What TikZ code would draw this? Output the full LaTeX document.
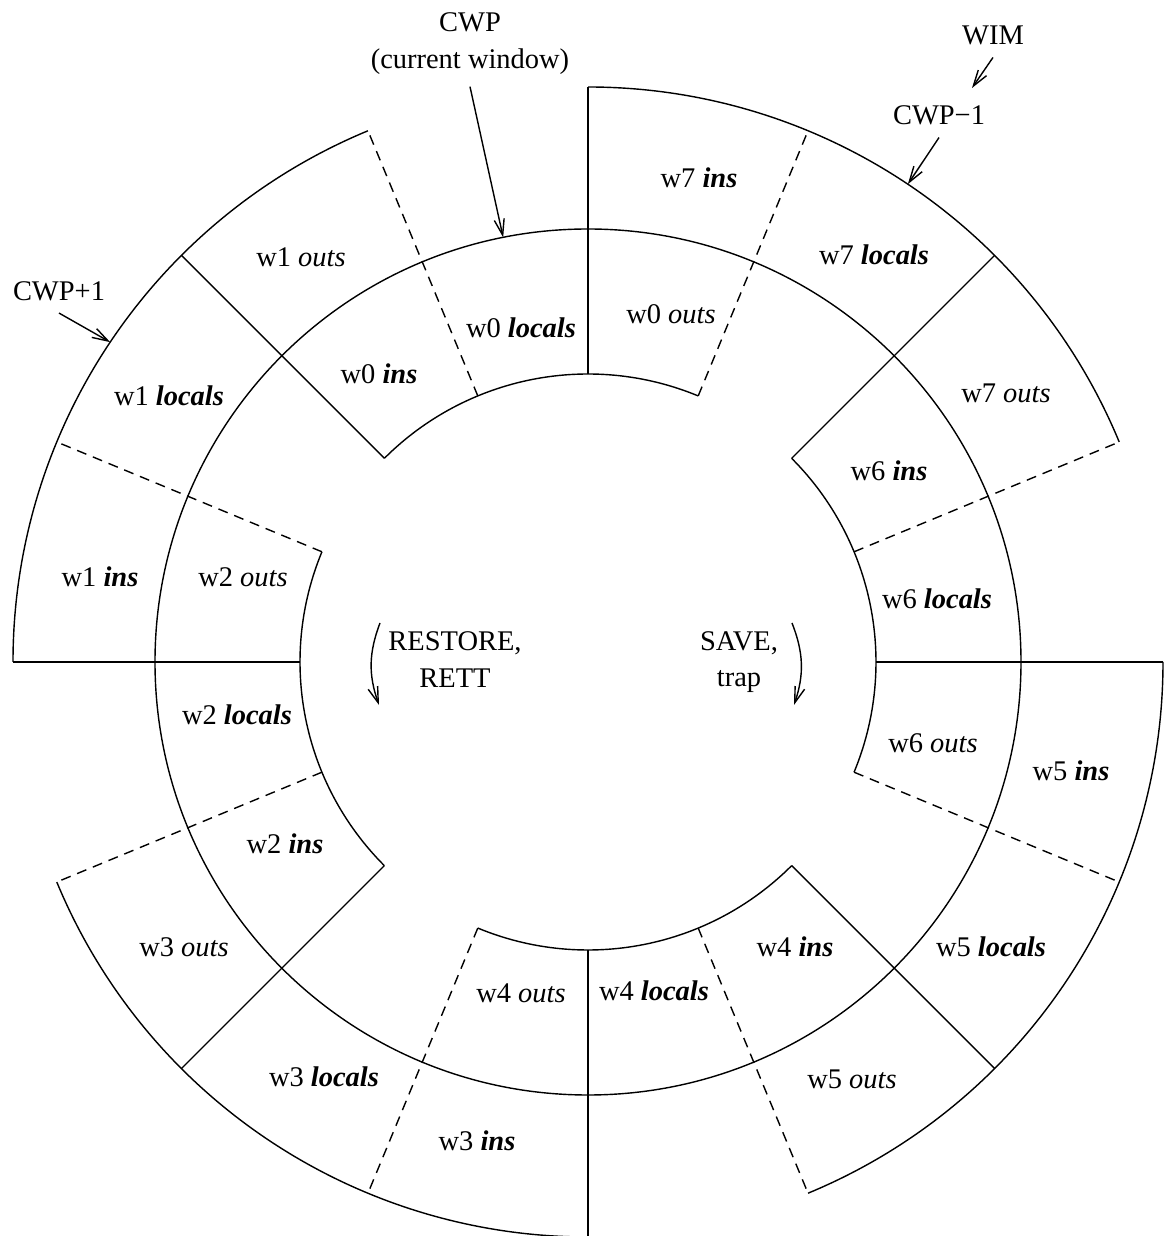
\documentclass[tikz,border=0pt]{standalone}
\usepackage{fontspec}
\setmainfont{Liberation Serif}
\usetikzlibrary{arrows.meta}

\newcommand{\rins}{\textbf{\textit{ins}}}
\newcommand{\rlocals}{\textbf{\textit{locals}}}
\newcommand{\routs}{\textit{outs}}

\begin{document}
\begin{tikzpicture}[>={Straight Barb[length=1.6mm,width=1mm]},
    every node/.style={font=\fontsize{8.1}{10.4}\selectfont},
    regsep/.style={dash pattern=on 1mm off 0.7mm}]
    \useasboundingbox (-5.88, -5.74) rectangle (5.81, 6.62);

    % bands
    \draw (0, 0) circle (4.33);
    \draw (67.5:2.88) arc (67.5:135:2.88);
    \draw (157.5:2.88) arc (157.5:225:2.88);
    \draw (247.5:2.88) arc (247.5:315:2.88);
    \draw (337.5:2.88) arc (337.5:405:2.88);
    \draw (22.5:5.75) arc (22.5:90:5.75);
    \draw (112.5:5.75) arc (112.5:180:5.75);
    \draw (202.5:5.75) arc (202.5:270:5.75);
    \draw (292.5:5.75) arc (292.5:360:5.75);

    % window borders
    \draw (0:2.88) -- (0:5.75);
    \draw (45:2.88) -- (45:5.75);
    \draw (90:2.88) -- (90:5.75);
    \draw (135:2.88) -- (135:5.75);
    \draw (180:2.88) -- (180:5.75);
    \draw (225:2.88) -- (225:5.75);
    \draw (270:2.88) -- (270:5.75);
    \draw (315:2.88) -- (315:5.75);

    \draw[regsep] (22.5:2.88) -- (22.5:5.75);
    \draw[regsep] (67.5:2.88) -- (67.5:5.75);
    \draw[regsep] (112.5:2.88) -- (112.5:5.75);
    \draw[regsep] (157.5:2.88) -- (157.5:5.75);
    \draw[regsep] (202.5:2.88) -- (202.5:5.75);
    \draw[regsep] (247.5:2.88) -- (247.5:5.75);
    \draw[regsep] (292.5:2.88) -- (292.5:5.75);
    \draw[regsep] (337.5:2.88) -- (337.5:5.75);

    % inner band
    \node (w0out) at (0.83, 3.48) {w0 \routs};
    \node (w0loc) at (-0.67, 3.34) {w0 \rlocals};
    \node (w0ins) at (-2.09, 2.88) {w0 \rins};
    \node (w2out) at (-3.45, 0.85) {w2 \routs};
    \node (w2loc) at (-3.51, -0.53) {w2 \rlocals};
    \node (w2ins) at (-3.03, -1.82) {w2 \rins};
    \node (w4out) at (-0.67, -3.31) {w4 \routs};
    \node (w4loc) at (0.66, -3.29) {w4 \rlocals};
    \node (w4ins) at (2.07, -2.85) {w4 \rins};
    \node (w6out) at (3.45, -0.81) {w6 \routs};
    \node (w6loc) at (3.49, 0.63) {w6 \rlocals};
    \node (w6ins) at (3.01, 1.91) {w6 \rins};

    % outer band
    \node (w1out) at (-2.87, 4.05) {w1 \routs};
    \node (w1loc) at (-4.19, 2.66) {w1 \rlocals};
    \node (w1ins) at (-4.88, 0.85) {w1 \rins};
    \node (w3out) at (-4.04, -2.85) {w3 \routs};
    \node (w3loc) at (-2.64, -4.15) {w3 \rlocals};
    \node (w3ins) at (-1.11, -4.79) {w3 \rins};
    \node (w5out) at (2.64, -4.17) {w5 \routs};
    \node (w5loc) at (4.03, -2.85) {w5 \rlocals};
    \node (w5ins) at (4.83, -1.09) {w5 \rins};
    \node (w7out) at (4.18, 2.69) {w7 \routs};
    \node (w7loc) at (2.86, 4.07) {w7 \rlocals};
    \node (w7ins) at (1.11, 4.84) {w7 \rins};

    % pointers
    \node[align=center] (cwp) at (-1.18, 6.185) {CWP\\(current window)};
    \coordinate (cwptip) at (101.3:4.33);
    \draw[->] (cwp.south) -- (cwptip);

    \node (wim) at (4.05, 6.265) {WIM};
    \node (cwpm) at (3.51, 5.465) {CWP−1};
    \coordinate (wimtip) at (3.84, 5.74);
    \draw[->] (wim.south) -- (wimtip);
    \coordinate (cwpmtip) at (56.2:5.75);
    \draw[->] (cwpm.south) -- (cwpmtip);

    \node (cwpp) at (-5.29, 3.71) {CWP+1};
    \coordinate (cwpptip) at (146.2:5.75);
    \draw[->] (cwpp.south) -- (cwpptip);

    % direction of rotation
    \node[align=center] (restore) at (-1.33, 0.025) {RESTORE,\\RETT};
    \coordinate (rsttop) at (-2.08, 0.39);
    \coordinate (rstbot) at (-2.09, -0.43);
    \draw[->] (rsttop) to[bend right=20] (rstbot);

    \node[align=center] (save) at (1.51, 0) {SAVE,\\trap};
    \coordinate (savtop) at (2.04, 0.39);
    \coordinate (savbot) at (2.06, -0.43);
    \draw[->] (savtop) to[bend left=20] (savbot);
\end{tikzpicture}
\end{document}
